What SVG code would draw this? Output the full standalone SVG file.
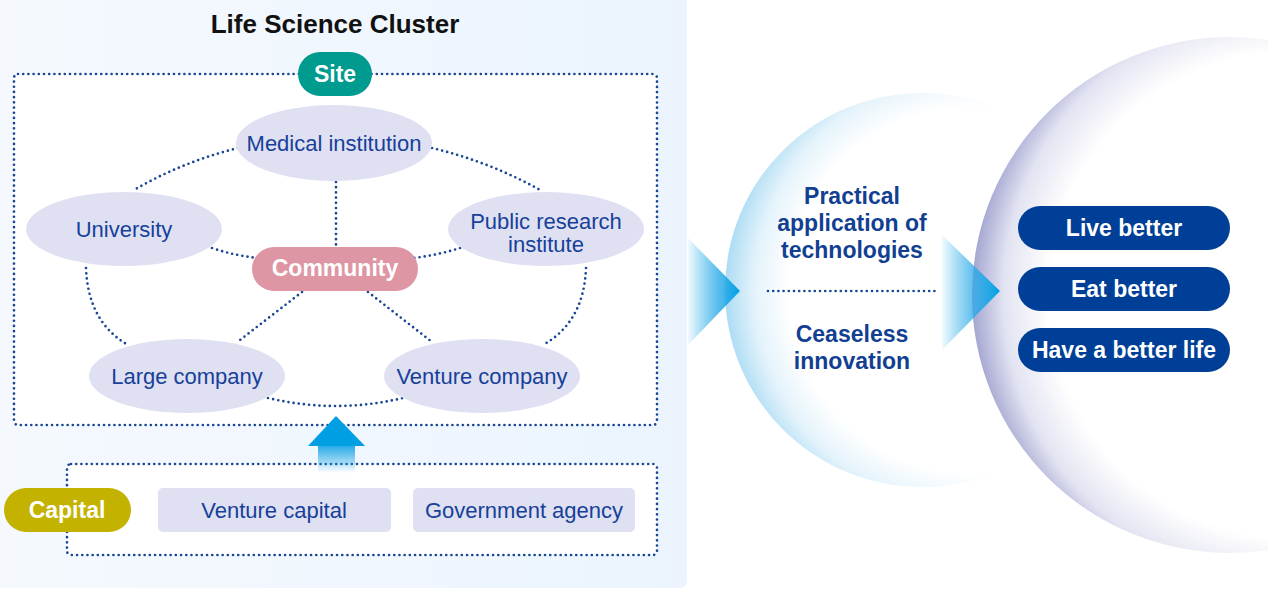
<svg xmlns="http://www.w3.org/2000/svg" width="1268" height="589" viewBox="0 0 1268 589">
  <style>
    .dot { fill: none; stroke: #1a4795; stroke-width: 2.7; stroke-linecap: round; stroke-dasharray: 0 5.2; }
    .oval { fill: #dfe0f1; }
    .lbl { font-family: "Liberation Sans", Arial, sans-serif; font-size: 22px; fill: #17409a; text-anchor: middle; }
    .wlbl { font-family: "Liberation Sans", Arial, sans-serif; font-size: 23px; font-weight: bold; fill: #ffffff; text-anchor: middle; }
    .blbl { font-family: "Liberation Sans", Arial, sans-serif; font-size: 23px; font-weight: bold; fill: #123f92; text-anchor: middle; }
    .title { font-family: "Liberation Sans", Arial, sans-serif; font-size: 26px; font-weight: bold; fill: #111111; text-anchor: middle; }
    .goal { fill: #003f98; }
  </style>
  <defs>
    <linearGradient id="panelBg" x1="0" y1="0" x2="1" y2="0">
      <stop offset="0" stop-color="#f5f9fe"/>
      <stop offset="1" stop-color="#ebf4fd"/>
    </linearGradient>
    <!-- off-centre glows: strongest on the left rim, fading to white on the right -->
    <radialGradient id="midGlow" gradientUnits="userSpaceOnUse" cx="972" cy="290" r="247">
      <stop offset="0" stop-color="#ffffff"/>
      <stop offset="0.74" stop-color="#ffffff"/>
      <stop offset="0.88" stop-color="#e4f3fb"/>
      <stop offset="1" stop-color="#acdcf4"/>
    </radialGradient>
    <radialGradient id="bigGlow" gradientUnits="userSpaceOnUse" cx="1292" cy="295" r="320">
      <stop offset="0" stop-color="#ffffff"/>
      <stop offset="0.76" stop-color="#ffffff"/>
      <stop offset="0.9" stop-color="#e3e4f2"/>
      <stop offset="1" stop-color="#a4a6d1"/>
    </radialGradient>
    <linearGradient id="chevron" x1="0" y1="0" x2="1" y2="0">
      <stop offset="0" stop-color="#009fe3" stop-opacity="0.05"/>
      <stop offset="0.55" stop-color="#2aaae8" stop-opacity="0.75"/>
      <stop offset="1" stop-color="#009fe3"/>
    </linearGradient>
    <linearGradient id="shaft" x1="0" y1="0" x2="0" y2="1">
      <stop offset="0" stop-color="#1aa5e6"/>
      <stop offset="1" stop-color="#1aa5e6" stop-opacity="0"/>
    </linearGradient>
  </defs>

  <!-- cluster panel -->
  <path d="M0,0 H687 V580 Q687,588 679,588 H0 Z" fill="url(#panelBg)"/>
  <text class="title" x="335" y="33">Life Science Cluster</text>

  <!-- site frame -->
  <rect x="14" y="74" width="643" height="351" rx="4" fill="#ffffff"/>
  <rect class="dot" x="14" y="74" width="643" height="351" rx="4"/>

  <!-- capital frame -->
  <rect x="67" y="464" width="590" height="91" rx="4" fill="#ffffff"/>
  <rect class="dot" x="67" y="464" width="590" height="91" rx="4"/>

  <!-- middle circle behind the outcome circle -->
  <circle cx="922" cy="290" r="197" fill="url(#midGlow)"/>
  <circle cx="1230" cy="295" r="258" fill="url(#bigGlow)"/>

  <!-- connectors -->
  <g id="connectors">
    <path class="dot" d="M238,148 Q182,162 134,190"/>
    <path class="dot" d="M432,148 Q490,162 540,190"/>
    <path class="dot" d="M336,182 V246"/>
    <path class="dot" d="M212,248 Q236,256 258,258"/>
    <path class="dot" d="M460,248 Q438,255 414,258"/>
    <path class="dot" d="M302,292 L240,340"/>
    <path class="dot" d="M368,292 L432,342"/>
    <path class="dot" d="M86,268 Q88,322 128,345"/>
    <path class="dot" d="M586,268 Q584,322 543,345"/>
    <path class="dot" d="M268,398 Q336,414 403,398"/>
    <path class="dot" d="M768,291 H937"/>
    <!-- capital to cluster -->
    <g id="upArrow">
      <rect x="318" y="444" width="37" height="29" fill="url(#shaft)"/>
      <polygon points="336,416 365,446 308,446" fill="#009fe3"/>
    </g>
    <polygon points="688,238 740,291 688,345" fill="url(#chevron)"/>
    <polygon points="942,235 1000,291 942,350" fill="url(#chevron)"/>
  </g>

  <!-- site nodes -->
  <g id="site">
    <rect x="298" y="52" width="74" height="44" rx="22" fill="#009b8f"/>
    <text class="wlbl" x="335" y="82" font-weight="normal">Site</text>
  </g>
  <g id="medical">
    <ellipse class="oval" cx="334" cy="143" rx="98" ry="38"/>
    <text class="lbl" x="334" y="151">Medical institution</text>
  </g>
  <g id="university">
    <ellipse class="oval" cx="124" cy="229" rx="98" ry="37"/>
    <text class="lbl" x="124" y="237">University</text>
  </g>
  <g id="public-research">
    <ellipse class="oval" cx="546" cy="229" rx="98" ry="37"/>
    <text class="lbl" x="546" y="229">Public research</text>
    <text class="lbl" x="546" y="252">institute</text>
  </g>
  <g id="community">
    <rect x="252" y="247" width="166" height="44" rx="22" fill="#de96a5"/>
    <text class="wlbl" x="335" y="276">Community</text>
  </g>
  <g id="large-company">
    <ellipse class="oval" cx="187" cy="376" rx="98" ry="37"/>
    <text class="lbl" x="187" y="384">Large company</text>
  </g>
  <g id="venture-company">
    <ellipse class="oval" cx="482" cy="376" rx="98" ry="37"/>
    <text class="lbl" x="482" y="384">Venture company</text>
  </g>

  <!-- capital nodes -->
  <g id="capital">
    <rect x="4" y="488" width="127" height="44" rx="22" fill="#c4b200"/>
    <text class="wlbl" x="67" y="518">Capital</text>
  </g>
  <g id="venture-capital">
    <rect class="oval" x="158" y="488" width="233" height="44" rx="5"/>
    <text class="lbl" x="274" y="518">Venture capital</text>
  </g>
  <g id="government-agency">
    <rect class="oval" x="413" y="488" width="222" height="44" rx="5"/>
    <text class="lbl" x="524" y="518">Government agency</text>
  </g>

  <!-- innovation -->
  <g id="innovation">
    <text class="blbl" x="852" y="204">Practical</text>
    <text class="blbl" x="852" y="231">application of</text>
    <text class="blbl" x="852" y="258">technologies</text>
    <text class="blbl" x="852" y="342">Ceaseless</text>
    <text class="blbl" x="852" y="369">innovation</text>
  </g>

  <!-- outcomes -->
  <g id="live-better">
    <rect class="goal" x="1018" y="206" width="212" height="44" rx="22"/>
    <text class="wlbl" x="1124" y="236">Live better</text>
  </g>
  <g id="eat-better">
    <rect class="goal" x="1018" y="267" width="212" height="44" rx="22"/>
    <text class="wlbl" x="1124" y="297">Eat better</text>
  </g>
  <g id="better-life">
    <rect class="goal" x="1018" y="328" width="212" height="44" rx="22"/>
    <text class="wlbl" x="1124" y="358">Have a better life</text>
  </g>
</svg>
